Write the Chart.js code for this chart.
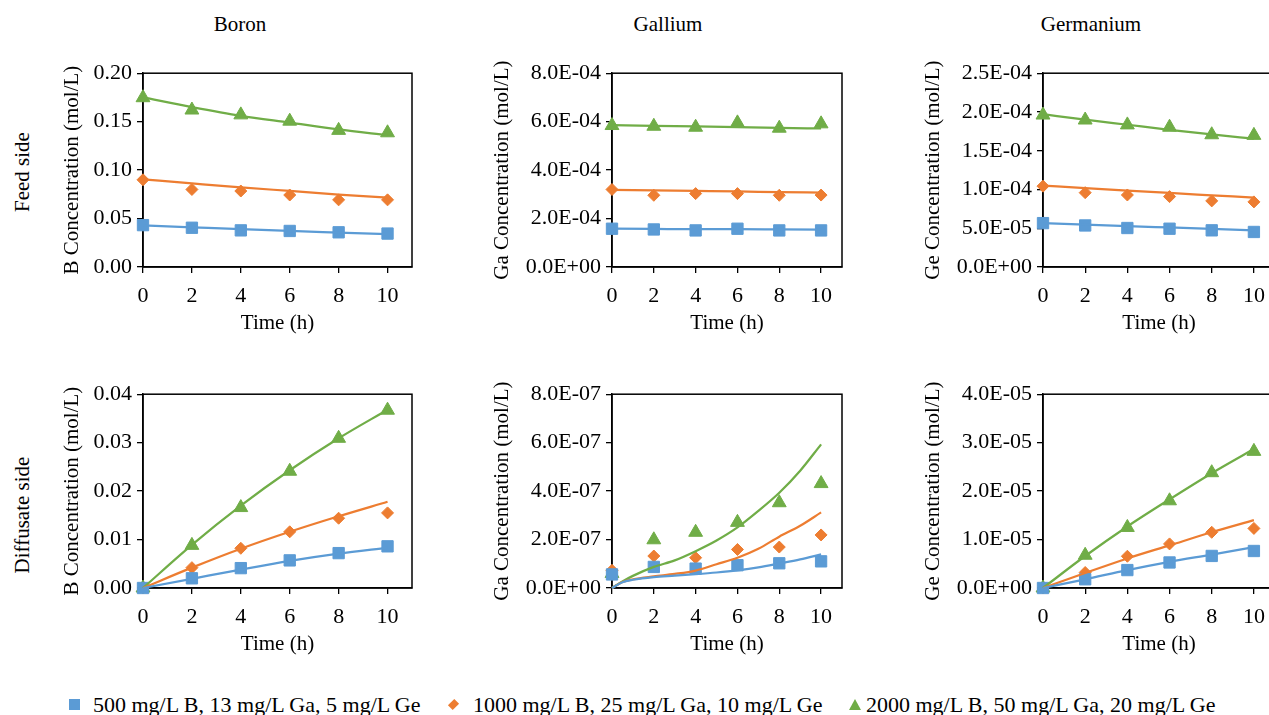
<!DOCTYPE html>
<html>
<head>
    <meta charset="utf-8">
    <title>Boron, Gallium, Germanium concentration</title>
    <script src="https://cdn.jsdelivr.net/npm/chart.js"></script>
    <style>
        * {
            margin: 0;
            padding: 0;
            box-sizing: border-box;
        }

        body {
            width: 1269px;
            height: 715px;
            overflow: hidden;
            position: relative;
            background: #fff;
            color: #000;
            font-family: "Liberation Serif", "Times New Roman", serif;
        }

        .panel { position: absolute; }

        /* column and row headings */
        .head {
            position: absolute;
            font-size: 21px;
            line-height: 24px;
            white-space: nowrap;
            transform: translateX(-50%);
        }

        .side {
            position: absolute;
            font-size: 21px;
            line-height: 24px;
            white-space: nowrap;
            transform: translate(-50%, -50%) rotate(-90deg);
        }

        /* legend under the grid */
        .legend-item {
            position: absolute;
            top: 692px;
            font-size: 22px;
            line-height: 26px;
            white-space: nowrap;
        }

        .mk {
            position: absolute;
        }
        .mk-square { width: 11px; height: 11px; background: #5b9bd5; }
        .mk-diamond { width: 9px; height: 9px; background: #ed7d31; transform: rotate(45deg) scaleX(0.75); }
        .mk-triangle {
            width: 0; height: 0;
            border-left: 6px solid transparent;
            border-right: 6px solid transparent;
            border-bottom: 11px solid #70ad47;
        }
    </style>
</head>
<body>
    <div class="head" style="left:240px; top:12px;">Boron</div>
    <div class="head" style="left:668px; top:12px;">Gallium</div>
    <div class="head" style="left:1091px; top:12px;">Germanium</div>

    <div class="side" style="left:22px; top:172px;">Feed side</div>
    <div class="side" style="left:22px; top:515px;">Diffusate side</div>

    <div class="panel" style="left:56px; top:55px;"><canvas id="feedB" width="365" height="285"></canvas></div>
    <div class="panel" style="left:486px; top:55px;"><canvas id="feedGa" width="365" height="285"></canvas></div>
    <div class="panel" style="left:917px; top:55px;"><canvas id="feedGe" width="367" height="285"></canvas></div>
    <div class="panel" style="left:56px; top:376px;"><canvas id="diffB" width="365" height="285"></canvas></div>
    <div class="panel" style="left:486px; top:376px;"><canvas id="diffGa" width="365" height="285"></canvas></div>
    <div class="panel" style="left:917px; top:376px;"><canvas id="diffGe" width="367" height="285"></canvas></div>

    <div class="mk mk-square" style="left:69px; top:699px;"></div>
    <div class="legend-item" id="lg0" style="left:93px;"></div>
    <div class="mk mk-diamond" style="left:449px; top:700px;"></div>
    <div class="legend-item" id="lg1" style="left:473px;"></div>
    <div class="mk mk-triangle" style="left:849px; top:699px;"></div>
    <div class="legend-item" id="lg2" style="left:866px;"></div>

    <script>
        // sampling times (h)
        var hours = [0, 2, 4, 6, 8, 10];
        var fitHours = [0, 2, 4, 6, 8, 10];
        var fitHoursGaDiff = [0, 0.5, 1, 2, 3, 4, 5, 6, 7, 8, 9, 10];
        var timeTicks = [0, 2, 4, 6, 8, 10];

        var seriesNames = [
            '500 mg/L B, 13 mg/L Ga, 5 mg/L Ge',
            '1000 mg/L B, 25 mg/L Ga, 10 mg/L Ge',
            '2000 mg/L B, 50 mg/L Ga, 20 mg/L Ge'
        ];

        // feed side: measured [500, 1000, 2000] and model curves
        var feedBMeasured = [
            [0.0432, 0.0405, 0.0378, 0.0372, 0.0358, 0.0345],
            [0.0900, 0.0800, 0.0784, 0.0743, 0.0693, 0.0693],
            [0.1747, 0.1620, 0.1570, 0.1505, 0.1410, 0.1385]
        ];
        var feedBModel = [
            [0.0430, 0.0410, 0.0390, 0.0372, 0.0355, 0.0338],
            [0.0905, 0.0863, 0.0822, 0.0785, 0.0748, 0.0715],
            [0.1750, 0.1650, 0.1560, 0.1490, 0.1420, 0.1360]
        ];
        var feedBTicks = [0, 0.05, 0.10, 0.15, 0.20];

        var feedGaMeasured = [
            [1.58e-4, 1.55e-4, 1.51e-4, 1.58e-4, 1.51e-4, 1.51e-4],
            [3.20e-4, 2.96e-4, 3.03e-4, 3.03e-4, 2.96e-4, 2.97e-4],
            [5.84e-4, 5.81e-4, 5.77e-4, 5.95e-4, 5.73e-4, 5.91e-4]
        ];
        var feedGaModel = [
            [1.58e-4, 1.57e-4, 1.56e-4, 1.56e-4, 1.55e-4, 1.54e-4],
            [3.18e-4, 3.16e-4, 3.14e-4, 3.12e-4, 3.09e-4, 3.07e-4],
            [5.86e-4, 5.83e-4, 5.80e-4, 5.77e-4, 5.74e-4, 5.72e-4]
        ];
        var feedGaTicks = [0, 2e-4, 4e-4, 6e-4, 8e-4];

        var feedGeMeasured = [
            [5.66e-5, 5.36e-5, 5.03e-5, 4.94e-5, 4.73e-5, 4.52e-5],
            [1.043e-4, 9.59e-5, 9.29e-5, 9.08e-5, 8.53e-5, 8.40e-5],
            [1.96e-4, 1.896e-4, 1.833e-4, 1.803e-4, 1.706e-4, 1.698e-4]
        ];
        var feedGeModel = [
            [5.66e-5, 5.47e-5, 5.28e-5, 5.10e-5, 4.92e-5, 4.73e-5],
            [1.051e-4, 1.018e-4, 9.86e-5, 9.55e-5, 9.25e-5, 8.95e-5],
            [1.972e-4, 1.900e-4, 1.835e-4, 1.770e-4, 1.710e-4, 1.655e-4]
        ];
        var feedGeTicks = [0, 5e-5, 1e-4, 1.5e-4, 2e-4, 2.5e-4];

        // diffusate side
        var diffBMeasured = [
            [0, 0.0020, 0.0041, 0.0057, 0.0072, 0.0086],
            [0, 0.0042, 0.0082, 0.0116, 0.0144, 0.0155],
            [0, 0.0088, 0.0166, 0.0241, 0.0309, 0.0367]
        ];
        var diffBModel = [
            [0, 0.0019, 0.0038, 0.0056, 0.0071, 0.0083],
            [0, 0.0042, 0.0081, 0.0116, 0.0148, 0.0178],
            [0, 0.0089, 0.0170, 0.0243, 0.0309, 0.0368]
        ];
        var diffBTicks = [0, 0.01, 0.02, 0.03, 0.04];

        var diffGaMeasured = [
            [0.56e-7, 0.87e-7, 0.80e-7, 0.94e-7, 1.02e-7, 1.10e-7],
            [0.73e-7, 1.32e-7, 1.25e-7, 1.59e-7, 1.69e-7, 2.19e-7],
            [0.60e-7, 1.99e-7, 2.30e-7, 2.71e-7, 3.52e-7, 4.31e-7]
        ];
        var diffGaModel = [
            [0, 0.24e-7, 0.34e-7, 0.45e-7, 0.51e-7, 0.57e-7, 0.64e-7, 0.73e-7, 0.85e-7, 1.01e-7, 1.18e-7, 1.39e-7],
            [0, 0.25e-7, 0.36e-7, 0.48e-7, 0.58e-7, 0.72e-7, 0.98e-7, 1.25e-7, 1.62e-7, 2.12e-7, 2.57e-7, 3.12e-7],
            [0, 0.27e-7, 0.50e-7, 0.87e-7, 1.14e-7, 1.52e-7, 1.96e-7, 2.50e-7, 3.18e-7, 3.93e-7, 4.84e-7, 5.93e-7]
        ];
        var diffGaTicks = [0, 2e-7, 4e-7, 6e-7, 8e-7];

        var diffGeMeasured = [
            [0, 0.18e-5, 0.37e-5, 0.527e-5, 0.662e-5, 0.764e-5],
            [0, 0.32e-5, 0.655e-5, 0.91e-5, 1.15e-5, 1.23e-5],
            [0, 0.676e-5, 1.25e-5, 1.80e-5, 2.38e-5, 2.82e-5]
        ];
        var diffGeModel = [
            [0, 0.18e-5, 0.37e-5, 0.54e-5, 0.69e-5, 0.845e-5],
            [0, 0.31e-5, 0.61e-5, 0.88e-5, 1.15e-5, 1.40e-5],
            [0, 0.66e-5, 1.27e-5, 1.83e-5, 2.37e-5, 2.87e-5]
        ];
        var diffGeTicks = [0, 1e-5, 2e-5, 3e-5, 4e-5];

        var colors = ['#5b9bd5', '#ed7d31', '#70ad47'];
        var markers = ['rect', 'rectRot', 'triangle'];
        var markerSizes = [8, 6, 8];

        var FONT = '"Liberation Serif", "Times New Roman", serif';

        seriesNames.forEach(function (name, i) {
            document.getElementById('lg' + i).textContent = name;
        });

        // Excel style scientific labels, e.g. 8.0E-04
        function sci(v) {
            var parts = v.toExponential(1).split('e');
            var exp = parseInt(parts[1], 10);
            var sign = exp < 0 ? '-' : '+';
            exp = Math.abs(exp);
            return parts[0] + 'E' + sign + (exp < 10 ? '0' : '') + exp;
        }

        function fixed2(v) {
            return v.toFixed(2);
        }

        function pairs(xs, ys) {
            return xs.map(function (x, k) { return { x: x, y: ys[k] }; });
        }

        // box border on all four sides of the plot area
        var frame = {
            id: 'frame',
            beforeDatasetsDraw: function (chart) {
                var a = chart.chartArea, ctx = chart.ctx;
                ctx.save();
                ctx.strokeStyle = '#000';
                ctx.lineWidth = 1.5;
                ctx.strokeRect(a.left, a.top, a.right - a.left, a.bottom - a.top);
                ctx.restore();
            }
        };

        function makePanel(id, yWidth, yTitle, yTicks, fmt, measured, model, modelHours) {
            var datasets = [];
            for (var i = 0; i < 3; i++) {
                datasets.push({
                    label: seriesNames[i] + ' (model)',
                    data: pairs(modelHours, model[i]),
                    showLine: true,
                    borderColor: colors[i],
                    borderWidth: 2.25,
                    pointRadius: 0,
                    cubicInterpolationMode: 'monotone',
                    clip: false
                });
            }
            for (var j = 0; j < 3; j++) {
                datasets.push({
                    label: seriesNames[j],
                    data: pairs(hours, measured[j]),
                    showLine: false,
                    pointStyle: markers[j],
                    pointRadius: markerSizes[j],
                    backgroundColor: colors[j],
                    borderColor: colors[j],
                    borderWidth: 1,
                    clip: false
                });
            }

            new Chart(document.getElementById(id), {
                type: 'scatter',
                data: { datasets: datasets },
                plugins: [frame],
                options: {
                    responsive: false,
                    animation: false,
                    devicePixelRatio: 1,
                    layout: { padding: { top: 15, right: 6, left: 0, bottom: 0 } },
                    plugins: {
                        legend: { display: false },
                        tooltip: { enabled: false }
                    },
                    scales: {
                        x: {
                            type: 'linear',
                            min: 0,
                            max: 11,
                            afterBuildTicks: function (s) {
                                s.ticks = timeTicks.map(function (v) { return { value: v }; });
                            },
                            afterFit: function (s) { s.height = 73; },
                            ticks: {
                                color: '#000',
                                padding: 10,
                                maxRotation: 0,
                                font: { family: FONT, size: 22 },
                                callback: function (v) { return String(v); }
                            },
                            grid: { drawOnChartArea: false, drawTicks: true, tickLength: 6, color: '#000', lineWidth: 1.3 },
                            border: { display: true, color: '#000', width: 1.5 },
                            title: {
                                display: true,
                                text: 'Time (h)',
                                color: '#000',
                                padding: { top: 4, bottom: 4 },
                                font: { family: FONT, size: 21 }
                            }
                        },
                        y: {
                            type: 'linear',
                            min: yTicks[0],
                            max: yTicks[yTicks.length - 1],
                            afterBuildTicks: function (s) {
                                s.ticks = yTicks.map(function (v) { return { value: v }; });
                            },
                            afterFit: function (s) { s.width = yWidth; },
                            ticks: {
                                color: '#000',
                                padding: 5,
                                font: { family: FONT, size: 22 },
                                callback: function (v) { return fmt(v); }
                            },
                            grid: { drawOnChartArea: false, drawTicks: true, tickLength: 6, color: '#000', lineWidth: 1.3 },
                            border: { display: true, color: '#000', width: 1.5 },
                            title: {
                                display: true,
                                text: yTitle,
                                color: '#000',
                                padding: { top: 4, bottom: 4 },
                                font: { family: FONT, size: 21 }
                            }
                        }
                    }
                }
            });
        }

        makePanel('feedB', 87, 'B Concentration (mol/L)', feedBTicks, fixed2, feedBMeasured, feedBModel, fitHours);
        makePanel('feedGa', 126, 'Ga Concentration (mol/L)', feedGaTicks, sci, feedGaMeasured, feedGaModel, fitHours);
        makePanel('feedGe', 126, 'Ge Concentration (mol/L)', feedGeTicks, sci, feedGeMeasured, feedGeModel, fitHours);
        makePanel('diffB', 87, 'B Concentration (mol/L)', diffBTicks, fixed2, diffBMeasured, diffBModel, fitHours);
        makePanel('diffGa', 126, 'Ga Concentration (mol/L)', diffGaTicks, sci, diffGaMeasured, diffGaModel, fitHoursGaDiff);
        makePanel('diffGe', 126, 'Ge Concentration (mol/L)', diffGeTicks, sci, diffGeMeasured, diffGeModel, fitHours);
    </script>
</body>
</html>
